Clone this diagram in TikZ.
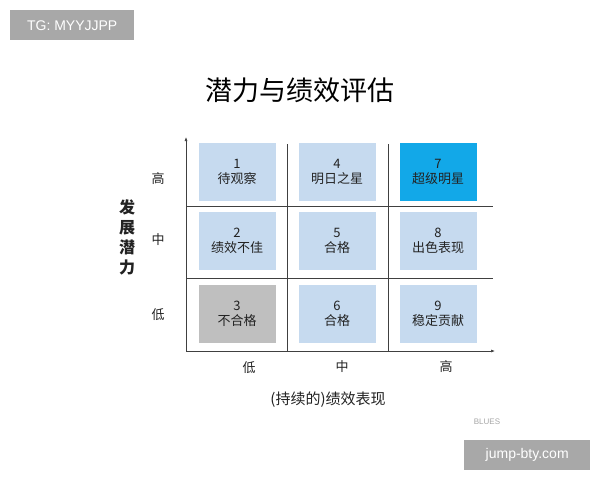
\documentclass[tikz,border=0pt]{standalone}
\usepackage{fontspec}
\setmainfont{Noto Sans CJK SC}
\newfontfamily\latinfont{Liberation Sans}
\usetikzlibrary{arrows.meta}
\definecolor{cellblue}{HTML}{C6DAEF}
\definecolor{starblue}{HTML}{12A8E8}
\definecolor{cellgray}{HTML}{BFBFBF}
\definecolor{tagray}{HTML}{A8A8A8}
\definecolor{txt}{HTML}{222222}
\begin{document}
\begin{tikzpicture}[x=1pt,y=-1pt,
  cell/.style={minimum width=77pt,minimum height=58pt,inner sep=0pt,align=center,font=\fontsize{13}{15}\selectfont,text=txt},
  lab/.style={font=\fontsize{13}{15}\selectfont,text=txt},
  grid/.style={draw=black!75,line width=0.6pt},
  tag/.style={fill=tagray,text=white,font=\latinfont\fontsize{14}{16}\selectfont,inner sep=0pt,minimum height=30pt}]
\useasboundingbox[fill=white] (0,0) rectangle (600,480);
\node[tag,minimum width=124pt,anchor=north west] (tg) at (10,10) {TG: MYYJJPP};
\node[tag,minimum width=126pt,anchor=north west] (jb) at (464,440) {jump-bty.com};
\node[font=\latinfont\fontsize{8}{9}\selectfont,text=black!35] (bl) at (487,422) {BLUES};
\node[font=\fontsize{27}{30}\selectfont,text=black] (title) at (300,90) {潜力与绩效评估};
% axes
\coordinate (o) at (186,351);
\coordinate (yt) at (186,137);
\coordinate (xt) at (495,351);
\draw[grid,-{Latex[length=4pt,width=3pt]}] (o) -- (yt);
\draw[grid,-{Latex[length=4pt,width=3pt]}] (o) -- (xt);
\coordinate (v1a) at (287,144); \coordinate (v1b) at (287,351);
\coordinate (v2a) at (388,144); \coordinate (v2b) at (388,351);
\coordinate (h1a) at (186,206); \coordinate (h1b) at (493,206);
\coordinate (h2a) at (186,278); \coordinate (h2b) at (493,278);
\draw[grid] (v1a) -- (v1b);
\draw[grid] (v2a) -- (v2b);
\draw[grid] (h1a) -- (h1b);
\draw[grid] (h2a) -- (h2b);
% cells
\node[cell,fill=cellblue] (c1) at (237,172) {1\\待观察};
\node[cell,fill=cellblue] (c4) at (337,172) {4\\明日之星};
\node[cell,fill=starblue] (c7) at (438,172) {7\\超级明星};
\node[cell,fill=cellblue] (c2) at (237,241) {2\\绩效不佳};
\node[cell,fill=cellblue] (c5) at (337,241) {5\\合格};
\node[cell,fill=cellblue] (c8) at (438,241) {8\\出色表现};
\node[cell,fill=cellgray] (c3) at (237,314) {3\\不合格};
\node[cell,fill=cellblue] (c6) at (337,314) {6\\合格};
\node[cell,fill=cellblue] (c9) at (438,314) {9\\稳定贡献};
% labels
\node[lab] (yh) at (158,179) {高};
\node[lab] (ym) at (158,240) {中};
\node[lab] (yl) at (158,315) {低};
\node[lab] (xl) at (249,368) {低};
\node[lab] (xm) at (342,367) {中};
\node[lab] (xh) at (446,367) {高};
\node[font=\fontsize{16}{20}\selectfont\bfseries,align=center,text=txt] (ya) at (127,237) {发\\展\\潜\\力};
\node[font=\fontsize{15}{17}\selectfont,text=txt] (xa) at (328,400) {(持续的)绩效表现};
\end{tikzpicture}
\end{document}
